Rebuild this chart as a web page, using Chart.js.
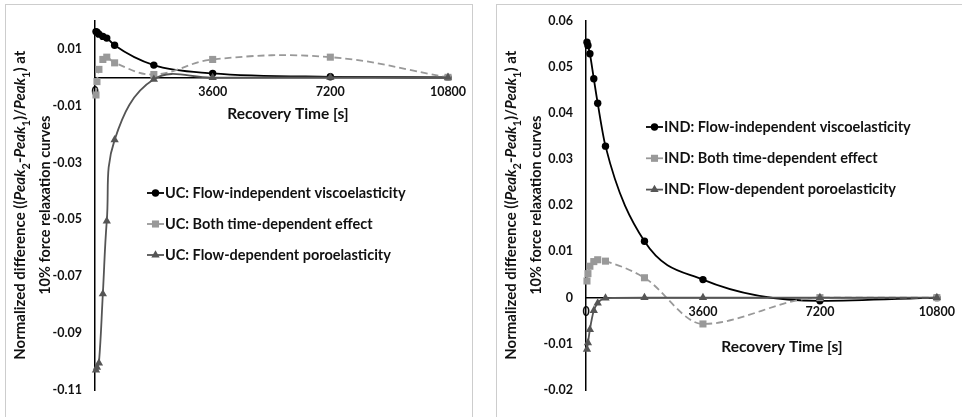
<!DOCTYPE html>
<html lang="en">
<head>
<meta charset="UTF-8" />
<title>Peak difference after recovery</title>
<script src="https://cdn.jsdelivr.net/npm/chart.js"></script>
<style>
  body { margin: 0; background: #fff; width: 962px; height: 417px; overflow: hidden; position: relative; }
  .panel { position: absolute; top: 4px; height: 440px; border: 1px solid #cdcdcd; box-sizing: border-box; }
  #panelUC { left: 5px; width: 468px; }
  #panelIND { left: 496px; width: 480px; }
  canvas { position: absolute; top: 0; }
  #ucChart { left: 0; }
  #indChart { left: 480px; }
</style>
</head>
<body>
<div class="panel" id="panelUC"></div>
<div class="panel" id="panelIND"></div>
<canvas id="ucChart" width="480" height="417"></canvas>
<canvas id="indChart" width="482" height="417"></canvas>

<script>
// recovery times [s], same for every series
const times = [30, 60, 120, 240, 360, 600, 1800, 3600, 7200, 10800];
const xTicks = [0, 3600, 7200, 10800];

// unconfined compression (left)
const ucVisco = [0.0161, 0.0159, 0.0152, 0.0144, 0.0138, 0.0113, 0.0043, 0.0014, 0.0002, 0];
const ucBoth  = [-0.0062, -0.0015, 0.0028, 0.0063, 0.0071, 0.0051, 0.0010, 0.0063, 0.0071, 0];
const ucPoro  = [-0.1030, -0.1020, -0.1005, -0.0762, -0.0506, -0.0220, -0.0007, -0.0001, 0, 0];
const ucYTicks = [-0.11, -0.09, -0.07, -0.05, -0.03, -0.01, 0.01];

// indentation (right)
const indVisco = [0.0553, 0.0546, 0.0528, 0.0474, 0.0421, 0.0328, 0.0122, 0.0039, -0.0007, 0];
const indBoth  = [0.0036, 0.0052, 0.0068, 0.0078, 0.0082, 0.0079, 0.0043, -0.0057, 0, 0];
const indPoro  = [-0.0112, -0.0098, -0.0069, -0.0028, -0.0012, -0.0001, 0, 0, 0, 0];
const indYTicks = [-0.02, -0.01, 0, 0.01, 0.02, 0.03, 0.04, 0.05, 0.06];

const FONT = 'Lato, "Liberation Sans", sans-serif';
Chart.defaults.font.family = FONT;

const looks = {
  visco: { color: '#000000', shape: 'circle', r: 3.7, dash: [] },
  both: { color: '#999999', shape: 'rect', r: 5, dash: [7, 4] },
  poro: { color: '#555555', shape: 'triangle', r: 4.8, dash: [] }
};

function series(label, values, kind, order, interp) {
  const l = looks[kind];
  return {
    label: label,
    data: times.map((t, i) => ({ x: t, y: values[i] })),
    showLine: true,
    tension: 0.4,
    cubicInterpolationMode: interp || 'default',
    borderColor: l.color,
    borderWidth: 1.8,
    borderDash: l.dash,
    pointStyle: l.shape,
    pointRadius: l.r,
    pointBackgroundColor: l.color,
    pointBorderColor: l.color,
    pointBorderWidth: 0,
    clip: false,
    order: order
  };
}

const yTitleParts = [
  ['Normalized difference ((', 'n'], ['Peak', 'i'], ['2', 's'], ['-', 'n'], ['Peak', 'i'], ['1', 's'],
  [')/', 'n'], ['Peak', 'i'], ['1', 's'], [') at', 'n']
];
const yTitle2 = '10% force relaxation curves';

function drawRich(ctx, parts, x, cy, size) {
  const fontOf = k => k === 'i' ? `italic bold ${size}px ${FONT}` :
    k === 's' ? `bold ${Math.round(size * 0.7)}px ${FONT}` : `bold ${size}px ${FONT}`;
  let total = 0;
  parts.forEach(([t, k]) => { ctx.font = fontOf(k); total += ctx.measureText(t).width; });
  ctx.save();
  ctx.translate(x, cy);
  ctx.rotate(-Math.PI / 2);
  ctx.textAlign = 'left';
  ctx.textBaseline = 'alphabetic';
  let pos = -total / 2;
  parts.forEach(([t, k]) => {
    ctx.font = fontOf(k);
    ctx.fillText(t, pos, k === 's' ? size * 0.3 : 0);
    pos += ctx.measureText(t).width;
  });
  ctx.restore();
}

// axis titles and the in-plot legend
const annotate = {
  id: 'annotate',
  afterDraw(chart, args, o) {
    const ctx = chart.ctx;
    const area = chart.chartArea;
    const cy = (area.top + area.bottom) / 2;
    ctx.save();
    ctx.fillStyle = '#111';
    ctx.textAlign = 'center';
    ctx.textBaseline = 'middle';
    ctx.font = `bold 15.5px ${FONT}`;
    ctx.fillText('Recovery Time [s]', o.xTitleAt[0], o.xTitleAt[1]);

    drawRich(ctx, yTitleParts, area.left - 70, cy, 15);
    drawRich(ctx, [[yTitle2, 'n']], area.left - 45, cy, 14.5);

    chart.data.datasets.forEach((ds, i) => {
      const x = o.legendAt[0];
      const y = o.legendAt[1] + i * o.legendGap;
      ctx.strokeStyle = ds.borderColor;
      ctx.lineWidth = ds.borderWidth;
      ctx.setLineDash([]);
      ctx.beginPath();
      ctx.moveTo(x, y);
      ctx.lineTo(x + 17, y);
      ctx.stroke();
      ctx.fillStyle = ds.pointBackgroundColor;
      Chart.helpers.drawPoint(ctx, { pointStyle: ds.pointStyle, radius: ds.pointRadius, borderWidth: 0 }, x + 8.5, y);
      ctx.fillStyle = '#111';
      ctx.textAlign = 'left';
      ctx.font = `bold 14.5px ${FONT}`;
      ctx.fillText(ds.label, x + 18, y);
    });
    ctx.restore();
  }
};

function makeChart(id, sets, yTicks, yMin, yMax, yWidth, padRight, opts) {
  new Chart(document.getElementById(id), {
    type: 'scatter',
    data: { datasets: sets },
    options: {
      responsive: false,
      animation: false,
      devicePixelRatio: 1,
      layout: { padding: { left: 0, top: 15, right: padRight, bottom: 27 } },
      scales: {
        x: {
          type: 'linear',
          position: { y: 0 },
          min: 0,
          max: 10800,
          afterBuildTicks: s => { s.ticks = xTicks.map(v => ({ value: v })); },
          grid: { display: false, drawTicks: false },
          border: { display: true, color: '#000', width: 1.5 },
          ticks: {
            padding: 7,
            color: '#111',
            font: { size: 12.5, weight: 'bold' },
            maxRotation: 0,
            callback: v => String(v)
          }
        },
        y: {
          type: 'linear',
          position: 'left',
          min: yMin,
          max: yMax,
          afterBuildTicks: s => { s.ticks = yTicks.map(v => ({ value: v })); },
          afterFit: s => { s.width = yWidth; },
          grid: { display: false, drawTicks: false },
          border: { display: true, color: '#000', width: 1.5 },
          ticks: {
            padding: 13,
            color: '#111',
            font: { size: 12.5, weight: 'bold' },
            callback: v => String(Number(v.toFixed(2)))
          }
        }
      },
      plugins: {
        legend: { display: false },
        tooltip: { enabled: false },
        annotate: opts
      }
    },
    plugins: [annotate]
  });
}

makeChart('ucChart', [
  series('UC: Flow-independent viscoelasticity', ucVisco, 'visco', 3, 'monotone'),
  series('UC: Both time-dependent effect', ucBoth, 'both', 2),
  series('UC: Flow-dependent poroelasticity', ucPoro, 'poro', 1)
], ucYTicks, -0.11, 0.02, 95, 32, { xTitleAt: [288, 114], legendAt: [147, 193], legendGap: 31 });

makeChart('indChart', [
  series('IND: Flow-independent viscoelasticity', indVisco, 'visco', 3, 'monotone'),
  series('IND: Both time-dependent effect', indBoth, 'both', 2, 'monotone'),
  series('IND: Flow-dependent poroelasticity', indPoro, 'poro', 1, 'monotone')
], indYTicks, -0.02, 0.06, 106, 22, { xTitleAt: [302, 347], legendAt: [166, 127], legendGap: 31.3 });
</script>
</body>
</html>
